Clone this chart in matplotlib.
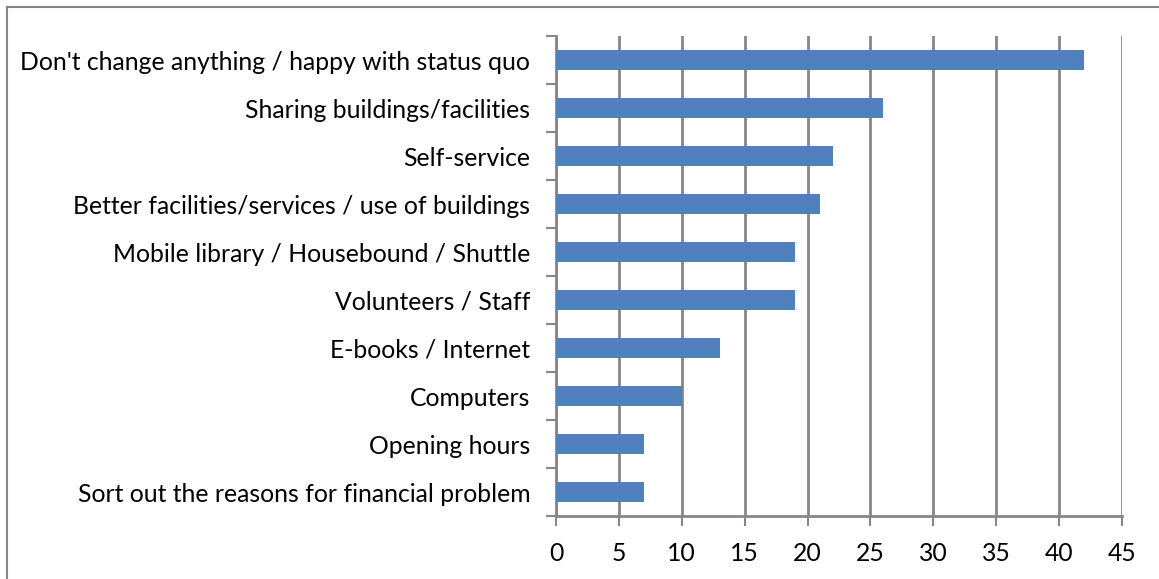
import numpy as np
import matplotlib
matplotlib.use("Agg")
import matplotlib.pyplot as plt
from matplotlib.lines import Line2D

# Dados (de baixo para cima)
categorias = [
    "Sort out the reasons for financial problem",
    "Opening hours",
    "Computers",
    "E-books / Internet",
    "Volunteers / Staff",
    "Mobile library / Housebound / Shuttle",
    "Better facilities/services / use of buildings",
    "Self-service",
    "Sharing buildings/facilities",
    "Don't change anything / happy with status quo",
]
valores = [7, 7, 10, 13, 19, 19, 21, 22, 26, 42]
xticks = [0, 5, 10, 15, 20, 25, 30, 35, 40, 45]

plt.rcParams['font.family'] = ['Lato', 'DejaVu Sans']
cinza = '#868686'

fig = plt.figure(figsize=(11.59, 5.79), dpi=100)
ax = fig.add_axes([556 / 1159, 1 - 516 / 579, (1122 - 556) / 1159, (516 - 36) / 579])

y = np.arange(len(categorias))
ax.barh(y, valores, height=0.4, color='#4F81BD', zorder=3)

ax.set_xlim(0, 45)
ax.set_ylim(-0.5, len(categorias) - 0.5)
ax.set_xticks(xticks)
ax.set_xticklabels([str(t) for t in xticks], fontsize=17.8)
ax.xaxis.grid(True, color=cinza, linewidth=2, zorder=0)

# Rótulos no centro, marcas nas divisões
ax.set_yticks(y)
ax.set_yticklabels(categorias, fontsize=17.8)
ax.tick_params(axis='y', length=0, pad=18.5)
ax.set_yticks(np.arange(-0.5, len(categorias), 1), minor=True)
ax.tick_params(axis='y', which='minor', length=7, width=1.5, color=cinza)
ax.tick_params(axis='x', length=7, width=1.5, color=cinza, pad=12)

for lado in ['top', 'right']:
    ax.spines[lado].set_visible(False)
for lado in ['left', 'bottom']:
    ax.spines[lado].set_color(cinza)
    ax.spines[lado].set_linewidth(2)

# Borda da figura (só esquerda e topo visíveis)
fig.add_artist(Line2D([6.5 / 1159, 6.5 / 1159], [0, 1 - 7 / 579], transform=fig.transFigure, color=cinza, linewidth=1.5))
fig.add_artist(Line2D([6.5 / 1159, 1], [1 - 7 / 579, 1 - 7 / 579], transform=fig.transFigure, color=cinza, linewidth=1.5))

fig.savefig('out.png', dpi=100)
